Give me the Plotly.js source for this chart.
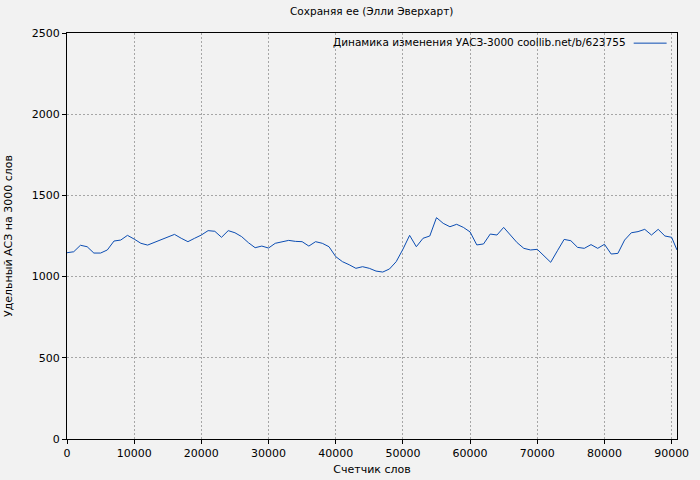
<!DOCTYPE html>
<html>
<head>
<meta charset="utf-8">
<script src="https://cdn.plot.ly/plotly-3.0.1.min.js"></script>
<style>html,body{margin:0;padding:0;background:#f2f2f2;}#chart{width:700px;height:480px;}</style>
</head>
<body>
<div id="chart"></div>
<script>
const words = [0,1000,2000,3000,4000,5000,6000,7000,8000,9000,
10000,11000,12000,13000,14000,15000,16000,17000,18000,19000,
20000,21000,22000,23000,24000,25000,26000,27000,28000,29000,
30000,31000,32000,33000,34000,35000,36000,37000,38000,39000,
40000,41000,42000,43000,44000,45000,46000,47000,48000,49000,
50000,51000,52000,53000,54000,55000,56000,57000,58000,59000,
60000,61000,62000,63000,64000,65000,66000,67000,68000,69000,
70000,71000,72000,73000,74000,75000,76000,77000,78000,79000,
80000,81000,82000,83000,84000,85000,86000,87000,88000,89000,
90000,90800];
const uasz = [1147,1153,1193,1184,1145,1145,1164,1219,1225,1254,
1231,1205,1194,1211,1229,1246,1260,1236,1215,1236,
1256,1283,1279,1242,1283,1270,1246,1209,1178,1188,
1176,1205,1215,1223,1217,1215,1188,1215,1205,1184,
1123,1092,1073,1051,1061,1051,1034,1028,1047,1092,
1168,1254,1184,1236,1250,1363,1328,1307,1322,1303,
1275,1195,1201,1262,1256,1303,1256,1209,1174,1164,
1168,1129,1088,1159,1229,1221,1180,1174,1197,1174,
1199,1139,1143,1225,1270,1277,1291,1256,1291,1250,
1242,1164];
const xTicks = [0,10000,20000,30000,40000,50000,60000,70000,80000,90000];
const yTicks = [0,500,1000,1500,2000,2500];
const seriesName = "Динамика изменения УАСЗ-3000 coollib.net/b/623755";
const chartTitle = "Сохраняя ее (Элли Эверхарт)";
const xTitle = "Счетчик слов";
const yTitle = "Удельный АСЗ на 3000 слов";
const lineColor = "#0b4db3";

const trace = {x: words, y: uasz, type: 'scatter', mode: 'lines', name: seriesName,
  line: {color: lineColor, width: 1}, showlegend: false};

const layout = {
  width: 700, height: 480,
  paper_bgcolor: '#f2f2f2', plot_bgcolor: '#f2f2f2',
  margin: {l: 67, r: 23, t: 33, b: 41},
  font: {family: 'DejaVu Sans', size: 11, color: '#000'},
  title: {text: chartTitle, x: 0.531, xanchor: 'center', y: 0.985, yanchor: 'top', font: {size: 10.5, family: 'DejaVu Sans'}},
  xaxis: {range: [0, 90800], tickvals: xTicks, ticktext: xTicks.map(String),
    showline: true, linecolor: '#000', linewidth: 1, mirror: true,
    ticks: 'outside', ticklen: 4, tickcolor: '#000',
    showgrid: true, gridcolor: '#a6a6a6', griddash: '2px,2px', gridwidth: 1, zeroline: false,
    title: {text: xTitle, font: {size: 11}, standoff: 6}, tickfont: {size: 11}},
  yaxis: {range: [0, 2500], tickvals: yTicks, ticktext: yTicks.map(String),
    showline: true, linecolor: '#000', linewidth: 1, mirror: true,
    ticks: 'outside', ticklen: 4, tickcolor: '#000',
    showgrid: true, gridcolor: '#a6a6a6', griddash: '2px,2px', gridwidth: 1, zeroline: false,
    title: {text: yTitle, font: {size: 11}, standoff: 16}, tickfont: {size: 11}},
  annotations: [{xref: 'paper', yref: 'paper', x: 0.919, y: 0.977, xanchor: 'right', yanchor: 'middle',
    text: seriesName, showarrow: false, font: {size: 10.5}}],
  shapes: [{type: 'line', xref: 'paper', yref: 'paper', x0: 0.929, x1: 0.983, y0: 0.975, y1: 0.975,
    line: {color: lineColor, width: 1}}]
};
Plotly.newPlot('chart', [trace], layout, {displayModeBar: false});
</script>
</body>
</html>
